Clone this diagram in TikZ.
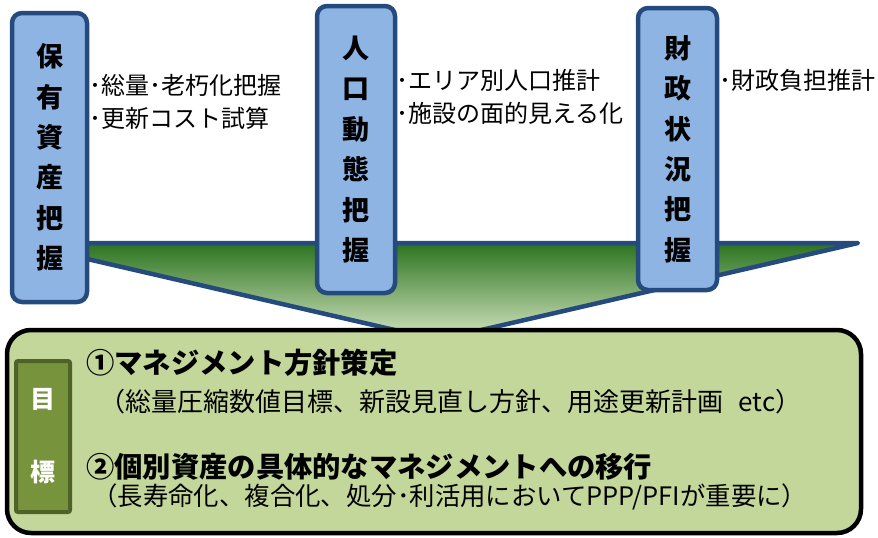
\documentclass[tikz,border=0pt]{standalone}
\usepackage{fontspec}
\setmainfont{Noto Sans CJK JP}
\usetikzlibrary{positioning}

\definecolor{boxblue}{HTML}{8EB4E3}
\definecolor{lineblue}{HTML}{254A7D}
\definecolor{darkgreen}{HTML}{2B731F}
\definecolor{palegreen}{HTML}{D6E6C2}
\definecolor{goalfill}{HTML}{C4D79B}
\definecolor{tagfill}{HTML}{77933C}
\definecolor{tagline}{HTML}{4F6228}

\begin{document}
\begin{tikzpicture}[x=1pt,y=-1pt,
  every node/.style={inner sep=0pt},
  colbox/.style={draw=lineblue,fill=boxblue,line width=4.5pt,rounded corners=10pt,
    align=center,font=\fontsize{27}{40.4}\selectfont\bfseries},
  side/.style={anchor=west,font=\fontsize{24}{28}\selectfont},
  title/.style={anchor=west,font=\fontsize{28.3}{32}\selectfont\bfseries},
  note/.style={anchor=west,font=\fontsize{26}{30}\selectfont}]
  \useasboundingbox (0,0) rectangle (878,538);
  % funnel behind the three columns
  \coordinate (fl) at (18,243);
  \coordinate (fr) at (858,243);
  \coordinate (ftip) at (438,340);
  \draw[draw=lineblue,line width=4.5pt,line join=round,top color=darkgreen,bottom color=palegreen]
    (fl) -- (fr) -- (ftip) -- cycle;
  % three columns
  \node[colbox,minimum width=75pt,minimum height=289pt] (hoyu) at (49.5,157.5) {保\\有\\資\\産\\把\\握};
  \node[colbox,minimum width=78pt,minimum height=287pt] (jinko) at (356,149.5) {人\\口\\動\\態\\把\\握};
  \node[colbox,minimum width=79pt,minimum height=282pt] (zaisei) at (677.5,149) {財\\政\\状\\況\\把\\握};
  \node[side] (hoyu1) at (89,85) {･総量･老朽化把握};
  \node[side] (hoyu2) at (89,118) {･更新コスト試算};
  \node[side] (jinko1) at (396,80) {･エリア別人口推計};
  \node[side] (jinko2) at (396,113) {･施設の面的見える化};
  \node[side] (zaisei1) at (719,80) {･財政負担推計};
  % goal box
  \node[draw=black,fill=goalfill,line width=4.5pt,rounded corners=24pt,
    minimum width=854pt,minimum height=203pt] (goal) at (434,431.5) {};
  \node[draw=tagline,fill=tagfill,line width=4pt,rounded corners=2pt,
    minimum width=54pt,minimum height=151pt,text=white,align=center,
    font=\fontsize{25}{73}\selectfont\bfseries] (tag) at (43,436.5) {目\\標};
  \node[title] (plan) at (86,363) {①マネジメント方針策定};
  \node[note] (plannote) at (99,402) {（総量圧縮数値目標、新設見直し方針、用途更新計画\hspace{0.6em}etc）};
  \node[title] (shift) at (86,467) {②個別資産の具体的なマネジメントへの移行};
  \node[note,font=\fontsize{25.4}{30}\selectfont] (shiftnote) at (92,497) {（長寿命化、複合化、処分･利活用においてPPP/PFIが重要に）};
\end{tikzpicture}
\end{document}
